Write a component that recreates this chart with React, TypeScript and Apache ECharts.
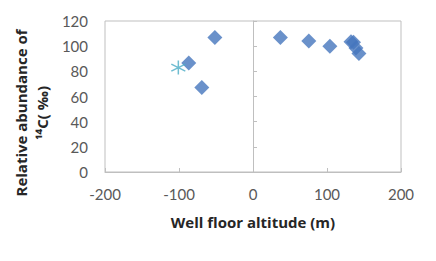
import React, { useEffect, useRef } from "react";
import * as echarts from "echarts";

const diamondX = [-51.5, -86.8, -69.2, 37, 75.4, 103.9, 132.4, 135.8, 139.1, 143.2];
const diamondY = [106.8, 86.6, 67.1, 106.8, 104.1, 99.9, 103.6, 103.1, 98.6, 94.1];
const starX = [-100.9];
const starY = [83.0];
const xTitle = "Well floor altitude (m)";
const yTitle1 = "Relative abundance of";
const yTitle2 = "¹⁴C( ‰)";

export default function App() {
  const ref = useRef<HTMLDivElement>(null);
  useEffect(() => {
    const chart = echarts.init(ref.current!, null, { renderer: "svg" });
    const font = "Lato, 'Open Sans', sans-serif";
    const tfont = "'Open Sans', Lato, sans-serif";
    chart.setOption({
      animation: false,
      grid: {
        left: 105, right: 35, top: 21, bottom: 89,
        show: true, borderColor: "#bfbfbf", borderWidth: 1,
      },
      xAxis: {
        type: "value", min: -200, max: 200, interval: 100,
        splitLine: { show: false },
        axisLine: { show: true, lineStyle: { color: "#bfbfbf" } },
        axisTick: { show: true, inside: true, length: 4, lineStyle: { color: "#bfbfbf" } },
        axisLabel: { color: "#595959", fontSize: 15, fontFamily: font, margin: 14 },
        name: xTitle, nameLocation: "middle", nameGap: 42,
        nameTextStyle: { color: "#262626", fontSize: 15, fontWeight: "bold", fontFamily: tfont },
      },
      yAxis: [
        {
          type: "value", min: 0, max: 120, interval: 20, position: "left",
          splitLine: { show: false },
          axisLine: { show: false, onZero: false },
          axisTick: { show: false },
          axisLabel: { color: "#595959", fontSize: 15, fontFamily: font, margin: 17 },
        },
        {
          type: "value", min: 0, max: 120, interval: 20, position: "left",
          splitLine: { show: false },
          axisLine: { show: true, onZero: true, lineStyle: { color: "#bfbfbf" } },
          axisTick: { show: true, inside: true, length: 4, lineStyle: { color: "#bfbfbf" } },
          axisLabel: { show: false },
        },
      ],
      graphic: [
        {
          type: "text", x: 21, y: 113, rotation: Math.PI / 2,
          style: {
            text: yTitle1, fill: "#262626", font: `bold 15px ${tfont}`,
            textAlign: "center", textVerticalAlign: "middle",
          },
        },
        {
          type: "text", x: 42, y: 113, rotation: Math.PI / 2,
          style: {
            text: yTitle2, fill: "#262626", font: `bold 15px ${tfont}`,
            textAlign: "center", textVerticalAlign: "middle",
          },
        },
      ],
      series: [
        {
          type: "scatter", yAxisIndex: 0,
          data: diamondX.map((x, i) => [x, diamondY[i]]),
          symbol: "diamond", symbolSize: 15,
          itemStyle: { color: "#4576bd" },
        },
        {
          type: "scatter", yAxisIndex: 0,
          data: starX.map((x, i) => [x, starY[i]]),
          symbol: "path://M0,-6L0,6M-5.2,-3L5.2,3M-5.2,3L5.2,-3",
          symbolSize: 14,
          itemStyle: { color: "none", borderColor: "#4bacc6", borderWidth: 1.5 },
        },
      ],
    });
    return () => chart.dispose();
  }, []);
  return <div ref={ref} style={{ width: 436, height: 261, margin: -8 }} />;
}
